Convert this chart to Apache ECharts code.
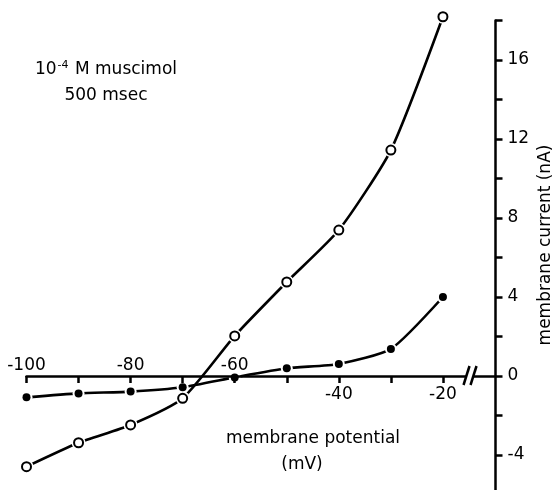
<!DOCTYPE html>
<html>
<head>
<meta charset="utf-8">
<script src="https://cdn.jsdelivr.net/npm/echarts@6/dist/echarts.min.js"></script>
<style>
html, body { margin: 0; background: #fff; }
#main { width: 555px; height: 490px; }
</style>
</head>
<body>
<div id="main"></div>
<script>
// membrane potential (mV) at each measured point
var potential = [-100, -90, -80, -70, -60, -50, -40, -30, -20];
// filled dots: control current (nA)
var filledCurrent = [-1.08, -0.88, -0.79, -0.57, -0.07, 0.39, 0.61, 1.37, 4.0];
// open circles: with 10^-4 M muscimol (nA)
var openCurrent = [-4.59, -3.38, -2.48, -1.13, 2.03, 4.76, 7.39, 11.44, 18.19];

var xTicks = [-100, -90, -80, -70, -60, -50, -40, -30, -20];
var xLabelsAbove = [-100, -80, -60];
var xLabelsBelow = [-40, -20];
var yLabels = [-4, 0, 4, 8, 12, 16];

var FONT = 'DejaVu Sans';
var GRID = { left: 26.5, right: 59.5, top: 20.5, bottom: -4.5 };
var Y_MIN = -6, Y_MAX = 18;

function pairs(ys) {
	return potential.map(function (x, i) { return [x, ys[i]]; });
}

// the potential axis sits on 0 nA: shift it from the grid edges to there
var plotH = 490 - GRID.top - GRID.bottom;
var zeroY = GRID.top + plotH * (Y_MAX - 0) / (Y_MAX - Y_MIN);
var offBottom = -(490 - GRID.bottom - zeroY);
var offTop = -(zeroY - GRID.top);

var myChart = echarts.init(document.getElementById('main'));

var option = {
	animation: false,
	backgroundColor: '#fff',
	grid: { left: GRID.left, right: GRID.right, top: GRID.top, bottom: GRID.bottom, outerBoundsMode: 'none' },
	xAxis: [{
		type: 'value',
		min: -100,
		max: -9.9,
		interval: 10,
		position: 'bottom',
		offset: offBottom,
		z: 5,
		axisLine: { show: true, onZero: false, lineStyle: { color: '#000', width: 2.5 } },
		axisTick: { show: true, length: 7, customValues: xTicks, lineStyle: { color: '#000', width: 2.5 } },
		axisLabel: { customValues: xLabelsBelow, margin: 10, color: '#000', fontSize: 17, fontFamily: FONT },
		splitLine: { show: false }
	}, {
		type: 'value',
		min: -100,
		max: -9.9,
		interval: 10,
		position: 'top',
		offset: offTop,
		axisLine: { show: false, onZero: false },
		axisTick: { show: false },
		axisLabel: { customValues: xLabelsAbove, margin: 2, color: '#000', fontSize: 17, fontFamily: FONT },
		splitLine: { show: false }
	}],
	yAxis: {
		type: 'value',
		min: Y_MIN,
		max: Y_MAX,
		interval: 2,
		position: 'right',
		axisLine: { show: true, onZero: false, lineStyle: { color: '#000', width: 2.5 } },
		axisTick: { show: true, length: 7, lineStyle: { color: '#000', width: 2.5 } },
		axisLabel: { customValues: yLabels, margin: 12, color: '#000', fontSize: 17, fontFamily: FONT },
		splitLine: { show: false }
	},
	series: [{
		name: 'control',
		type: 'line',
		data: pairs(filledCurrent),
		smooth: 0.2,
		showSymbol: false,
		clip: false,
		z: 2,
		lineStyle: { color: '#000', width: 2.6 }
	}, {
		name: 'muscimol',
		type: 'line',
		data: pairs(openCurrent),
		smooth: 0.2,
		showSymbol: false,
		clip: false,
		z: 2,
		lineStyle: { color: '#000', width: 2.6 }
	}, {
		type: 'scatter',
		data: pairs(filledCurrent),
		symbolSize: 12,
		clip: false,
		z: 3,
		itemStyle: { color: '#fff', opacity: 1 }
	}, {
		type: 'scatter',
		data: pairs(openCurrent),
		symbolSize: 14,
		clip: false,
		z: 3,
		itemStyle: { color: '#fff', opacity: 1 }
	}, {
		type: 'scatter',
		data: pairs(filledCurrent),
		symbolSize: 8,
		clip: false,
		z: 6,
		itemStyle: { color: '#000', opacity: 1 }
	}, {
		type: 'scatter',
		data: pairs(openCurrent),
		symbolSize: 9,
		clip: false,
		z: 6,
		itemStyle: { color: '#fff', borderColor: '#000', borderWidth: 2, opacity: 1 }
	}]
};
myChart.setOption(option);

// axis break "//" on the potential axis, between -20 and the current axis
var b = myChart.convertToPixel({ xAxisIndex: 0, yAxisIndex: 0 }, [-14.7, 0]);
var textStyle = { font: '17px "' + FONT + '"', fill: '#000', align: 'center', verticalAlign: 'middle' };

myChart.setOption({
	graphic: [{
		type: 'rect',
		z: 20,
		shape: { x: b[0] - 4, y: b[1] - 3, width: 7, height: 6 },
		style: { fill: '#fff' }
	}, {
		type: 'line',
		z: 21,
		shape: { x1: b[0] - 7, y1: b[1] + 9, x2: b[0] - 1, y2: b[1] - 10 },
		style: { stroke: '#000', lineWidth: 2.5 }
	}, {
		type: 'line',
		z: 21,
		shape: { x1: b[0], y1: b[1] + 9, x2: b[0] + 6, y2: b[1] - 10 },
		style: { stroke: '#000', lineWidth: 2.5 }
	}, {
		type: 'text',
		z: 20,
		x: 106, y: 70,
		style: {
			text: '10{s|-4} M muscimol',
			font: '17px "' + FONT + '"', fill: '#000', align: 'center', verticalAlign: 'middle',
			rich: { s: { fontSize: 11, fontFamily: FONT, padding: [0, 1, 10, 1] } }
		}
	}, {
		type: 'text',
		z: 20,
		x: 106, y: 96,
		style: Object.assign({ text: '500 msec' }, textStyle)
	}, {
		type: 'text',
		z: 20,
		x: 313, y: 439,
		style: Object.assign({ text: 'membrane potential' }, textStyle)
	}, {
		type: 'text',
		z: 20,
		x: 302, y: 465,
		style: Object.assign({ text: '(mV)' }, textStyle)
	}, {
		type: 'text',
		z: 20,
		x: 546, y: 245,
		rotation: Math.PI / 2,
		style: Object.assign({ text: 'membrane current (nA)' }, textStyle)
	}]
});
</script>
</body>
</html>
